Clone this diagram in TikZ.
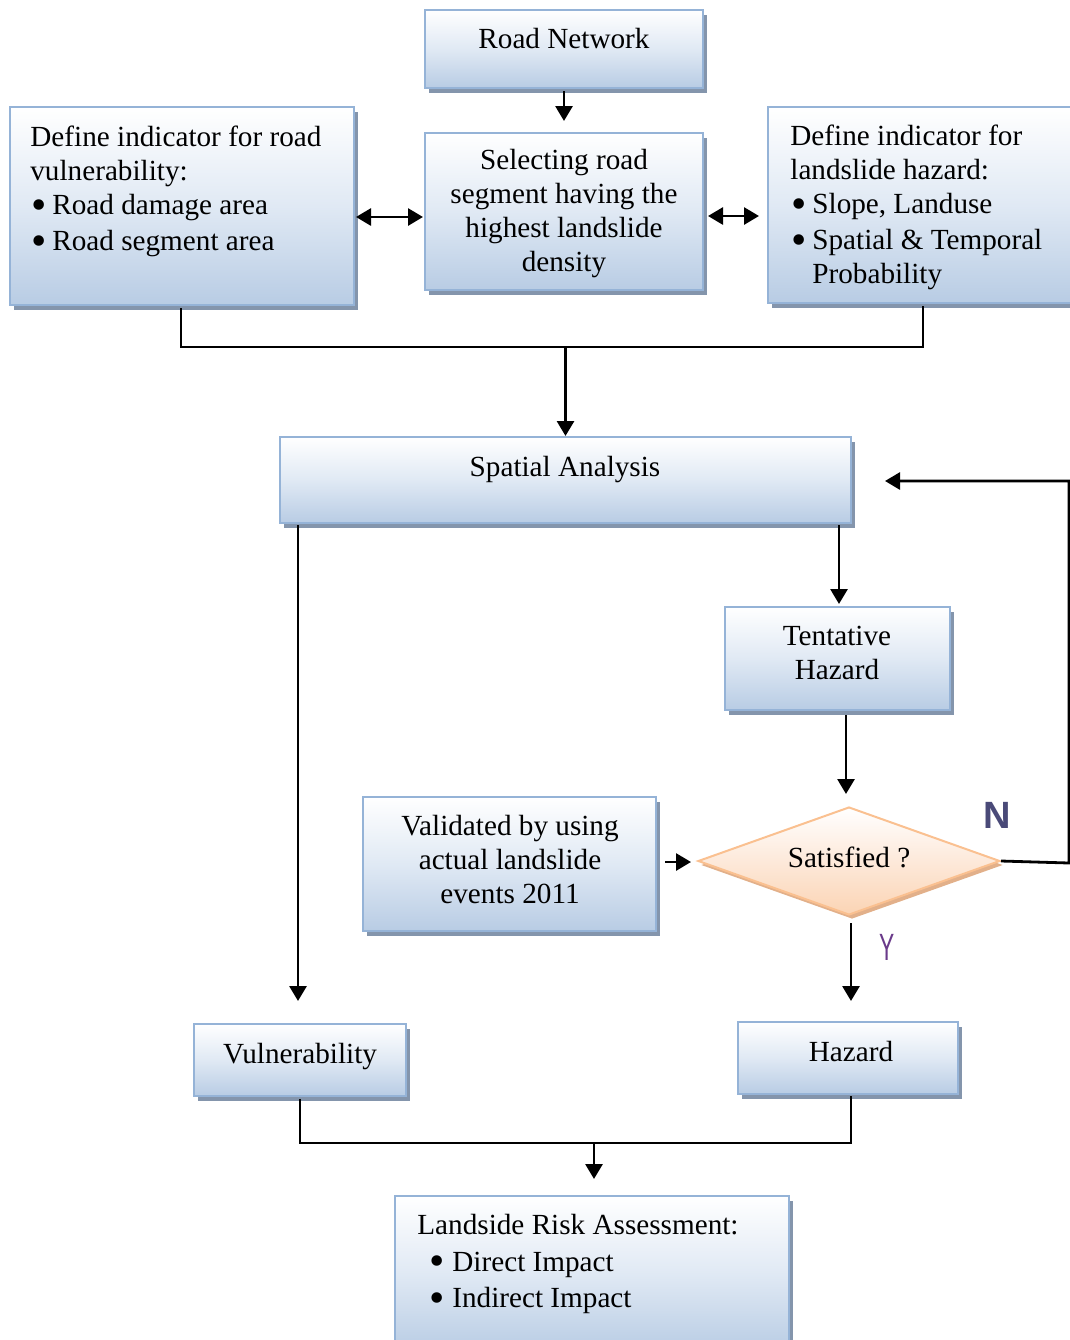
\documentclass[tikz,border=0pt]{standalone}
\usepackage{fontspec}
\setmainfont{Liberation Serif}
\newfontfamily\lsans{Liberation Sans}
\usetikzlibrary{arrows.meta,shapes.geometric,shadows,calc}
\definecolor{bxborder}{HTML}{95B3D7}
\definecolor{bxbottom}{HTML}{B8CCE4}
\definecolor{bxmid}{HTML}{E0E9F4}
\definecolor{bxshadow}{HTML}{8495AC}
\definecolor{dmborder}{HTML}{FAC090}
\definecolor{dmbottom}{HTML}{FBD4B4}
\definecolor{dmmid}{HTML}{FDE9DA}
\definecolor{dmshadow}{HTML}{E2B08A}
\definecolor{ncol}{HTML}{4A4A78}
\definecolor{ycol}{HTML}{6A3A8A}
\newcommand{\bigbul}{\smash{\raisebox{-2.3pt}{\scalebox{1.5}{•}}}}
\newcommand{\bla}{\makebox[11pt][l]{\hspace{0.5pt}\bigbul}}
\newcommand{\blb}{\hspace*{6pt}\makebox[11.5pt][l]{\bigbul}}
\begin{document}
\begin{tikzpicture}[x=0.5pt,y=-0.5pt,
  bx/.style={draw=bxborder, line width=1pt, top color=white, bottom color=bxbottom, middle color=bxmid,
    inner sep=0pt, drop shadow={shadow xshift=2pt, shadow yshift=-2.5pt, fill=bxshadow, opacity=1}},
  dm/.style={diamond, draw=dmborder, line width=1pt, top color=white, bottom color=dmbottom, middle color=dmmid,
    inner sep=0pt, aspect=2.8, drop shadow={shadow xshift=1.5pt, shadow yshift=-2pt, fill=dmshadow, opacity=1}},
  txt/.style={inner sep=0pt, font=\fontsize{14.6pt}{17pt}\selectfont},
  arr/.style={-{Triangle[length=7.5pt,width=8.5pt]}, line width=1.4pt},
  darr/.style={{Triangle[length=7.5pt,width=8.5pt]}-{Triangle[length=7.5pt,width=8.5pt]}, line width=1.4pt},
  ln/.style={line width=1.3pt}]
\useasboundingbox (0,0) rectangle (1070,1340);

% boxes
\node[bx, minimum width=139pt, minimum height=39pt] (rn) at (564,49) {};
\node[bx, minimum width=139pt, minimum height=78.5pt] (sel) at (564,211.5) {};
\node[bx, minimum width=172pt, minimum height=99pt] (lv) at (182,206) {};
\node[bx, minimum width=153.5pt, minimum height=98pt] (lh) at (921.5,205) {};
\node[bx, minimum width=285.5pt, minimum height=43pt] (sa) at (565.5,480) {};
\node[bx, minimum width=112.5pt, minimum height=51.5pt] (th) at (837.5,658.5) {};
\node[bx, minimum width=146.5pt, minimum height=67pt] (val) at (509.5,864) {};
\node[dm, minimum width=151pt, minimum height=54pt] (dia) at (849,861) {};
\node[bx, minimum width=106pt, minimum height=36pt] (vul) at (300,1060) {};
\node[bx, minimum width=110pt, minimum height=36pt] (haz) at (848,1058) {};
\node[bx, minimum width=197pt, minimum height=78pt] (lra) at (592,1274) {};

% texts
\node[txt] (rnt) at (564,39) {Road Network};
\node[txt, align=center] (selt) at (564,214) {Selecting road\\ segment having the\\ highest landslide\\ density};
\node[txt, align=left, anchor=north west] (lvt) at (30,126) {Define indicator for road\\ vulnerability:\\ \bla Road damage area\\[1pt] \bla Road segment area};
\node[txt, align=left, anchor=north west] (lht) at (790,125) {Define indicator for\\ landslide hazard:\\ \bla Slope, Landuse\\[1pt] \bla Spatial \& Temporal\\ \hspace*{11pt}Probability};
\node[txt, anchor=base] (sat) at (565,476) {Spatial Analysis};
\node[txt, align=center] (tht) at (837,653) {Tentative\\ Hazard};
\node[txt, align=center] (valt) at (510,859) {Validated by using\\ actual landslide\\ events 2011};
\node[txt, anchor=base] (diat) at (849,867) {Satisfied ?};
\node[txt, anchor=base] (vult) at (300,1063) {Vulnerability};
\node[txt, anchor=base] (hazt) at (851,1061) {Hazard};
\node[txt, align=left, anchor=north west, font=\fontsize{14.6pt}{18.3pt}\selectfont] (lrat) at (417,1214) {Landside Risk Assessment:\\ \blb Direct Impact\\ \blb Indirect Impact};
\node[inner sep=0pt, font=\lsans\bfseries\fontsize{19pt}{20pt}\selectfont, text=ncol] (nl) at (997,815) {N};
\node[inner sep=0pt, font=\lsans\fontsize{19pt}{20pt}\selectfont, text=ycol] (yl) at (887,947) {\scalebox{0.6}[1]{Y}};

% connectors
\coordinate (la) at ($(lv.east)+(1,11)$);
\coordinate (lb) at (la -| sel.west);
\draw[darr] (la) -- ($(lb)+(-1,0)$);
\coordinate (ra) at ($(sel.east)+(4,4.5)$);
\coordinate (rb) at (ra -| lh.west);
\draw[darr] (ra) -- ($(rb)+(-8,0)$);
\draw[ln] ($(lv.south)+(-1,2)$) -- ++(0,39) coordinate (m1) -| ($(lh.south)+(1.5,2)$);
\draw[arr] (m1 -| sa.north) -- (sa.north);
\draw[arr] ($(th.north |- sa.south)+(1.5,1)$) -- ($(th.north)+(1.5,-2)$);
\draw[arr] ($(vul.north |- sa.south)+(-2,1)$) -- ($(vul.north)+(-2,-22)$);
\draw[arr] ($(dia.north |- th.south)+(-3,4)$) -- ($(dia.north)+(-3,-12)$);
\draw[arr] ($(val.east)+(8,-2)$) -- ($(val.east -| dia.west)+(-6,-2)$);
\draw[arr] (dia.east) -- ++(68,2) coordinate (nc) |- ($(sa.east)+(33,1)$);
\draw[arr] ($(dia.south)+(2,7)$) -- ($(dia.south |- haz.north)+(2,-20)$);
\draw[ln] ($(vul.south)+(0,2)$) -- ++(0,44) coordinate (m2) -| ($(haz.south)+(3,1)$);
\draw[arr] ($(m2 -| lra.north)+(2,0)$) -- ($(lra.north)+(2,-16)$);
\draw[arr] ($(rn.south)+(0,2)$) -- ($(sel.north)+(0,-11)$);
\end{tikzpicture}
\end{document}
